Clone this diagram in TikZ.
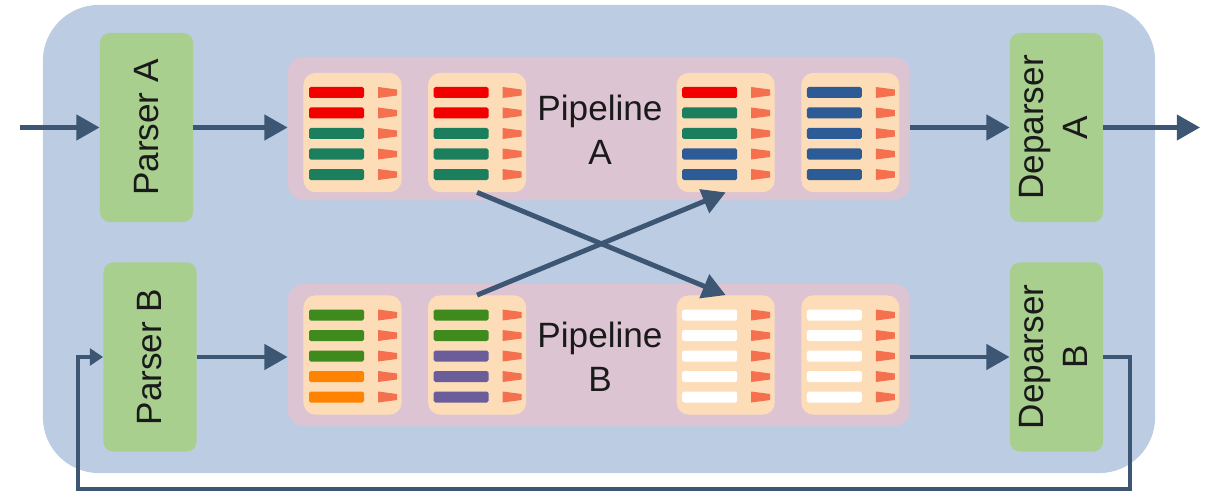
\documentclass[tikz,border=0pt]{standalone}
\usepackage{fontspec}
\setmainfont{Liberation Sans}
\usepackage{xcolor}
\usetikzlibrary{arrows.meta, positioning}

\definecolor{chipblue}{HTML}{BCCDE3}
\definecolor{unitgreen}{HTML}{A9CF8F}
\definecolor{pipepink}{HTML}{DDC4D2}
\definecolor{stagepeach}{HTML}{FCDDB8}
\definecolor{flowc}{HTML}{3C5673}
\definecolor{textc}{HTML}{1A1A1A}
\definecolor{wedgec}{HTML}{F4704F}
\definecolor{barred}{HTML}{F20000}
\definecolor{barteal}{HTML}{1B7F5E}
\definecolor{barblue}{HTML}{2D5B95}
\definecolor{bargreen}{HTML}{3F8A1D}
\definecolor{barorange}{HTML}{FF8300}
\definecolor{barpurple}{HTML}{6B5C9A}

% table entries of one stage: coloured bar plus action wedge per row
\newcommand{\stagebars}[2]{%
  \begin{scope}[shift={(#1.center)}]
    \foreach \c [count=\i from -2] in {#2} {
      \pgfmathsetmacro\yy{20.5*\i+1}
      \fill[\c, rounded corners=1.2pt] (-43.5,\yy-5.5) rectangle (11.5,\yy+5.5);
      \fill[wedge] (25.5,\yy-5.5) -- (44.5,\yy-3) -- (44.5,\yy+3) -- (25.5,\yy+5.5) -- cycle;
    }
  \end{scope}}

\begin{document}
\begin{tikzpicture}[
    x=0.025cm, y=-0.025cm,
    font=\fontsize{25}{31}\selectfont,
    chassis/.style={fill=chipblue, rounded corners=1.4cm, minimum width=27.8cm, minimum height=11.7cm},
    unit/.style={fill=unitgreen, rounded corners=0.25cm, minimum width=2.33cm, minimum height=4.73cm, inner sep=0pt, text=textc},
    pipe/.style={fill=pipepink, rounded corners=0.4cm, minimum width=15.55cm, minimum height=3.55cm},
    stage/.style={fill=stagepeach, rounded corners=0.3cm, minimum width=2.45cm, minimum height=2.98cm, inner sep=0pt},
    wedge/.style={fill=wedgec},
    flow/.style={draw=flowc, line width=3.5pt, -{Triangle[length=0.58cm, width=0.62cm]}},
    loopback/.style={draw=flowc, line width=2.8pt, -{Triangle[length=0.33cm, width=0.42cm]}},
]
    \useasboundingbox (0,0) rectangle (1207,492);

    % Switch chassis
    \node[chassis] (chip) at (599,239) {};

    % Parsers and deparsers
    \node[unit] (parsA) at (146.5,127.5) {\rotatebox{90}{Parser A}};
    \node[unit] (parsB) at (150,357) {\rotatebox{90}{Parser B}};
    \node[unit] (depA) at (1056.5,127.5) {\rotatebox{90}{\begin{tabular}{@{}c@{}}Deparser\\A\end{tabular}}};
    \node[unit] (depB) at (1056.5,357) {\rotatebox{90}{\begin{tabular}{@{}c@{}}Deparser\\B\end{tabular}}};

    % Pipelines
    \node[pipe, minimum height=3.58cm] (pipeA) at (599,128.5) {};
    \node[pipe] (pipeB) at (599,355) {};
    \node[align=center, text=textc] (labA) at (600,130) {Pipeline\\A};
    \node[align=center, text=textc] (labB) at (600,357) {Pipeline\\B};

    % Match-action stages
    \node[stage] (stA1) at (352.5,132.5) {};
    \node[stage, right=0.65cm of stA1] (stA2) {};
    \node[stage, right=3.75cm of stA2] (stA3) {};
    \node[stage, right=0.65cm of stA3] (stA4) {};
    \node[stage] (stB1) at (352.5,355) {};
    \node[stage, right=0.65cm of stB1] (stB2) {};
    \node[stage, right=3.75cm of stB2] (stB3) {};
    \node[stage, right=0.65cm of stB3] (stB4) {};

    \stagebars{stA1}{barred,barred,barteal,barteal,barteal}
    \stagebars{stA2}{barred,barred,barteal,barteal,barteal}
    \stagebars{stA3}{barred,barteal,barteal,barblue,barblue}
    \stagebars{stA4}{barblue,barblue,barblue,barblue,barblue}
    \stagebars{stB1}{bargreen,bargreen,bargreen,barorange,barorange}
    \stagebars{stB2}{bargreen,bargreen,barpurple,barpurple,barpurple}
    \stagebars{stB3}{white,white,white,white,white}
    \stagebars{stB4}{white,white,white,white,white}

    % Packet flow
    \coordinate (in) at (20,127.5);
    \coordinate (out) at (1200,127.5);
    \coordinate (loopR) at (1130,489);
    \coordinate (loopL) at (78,489);

    \draw[flow] (in) -- (parsA.west);
    \draw[flow] (parsA.east) -- (parsA.east -| pipeA.west);
    \draw[flow] (parsB.east) -- (parsB.east -| pipeB.west);
    \draw[flow] (pipeA.east |- depA.west) -- (depA.west);
    \draw[flow] (pipeB.east |- depB.west) -- (depB.west);
    \draw[flow] (depA.east) -- (out);
    \draw[flow] (stA2.south) -- (stB3.north);
    \draw[flow] (stB2.north) -- (stA3.south);
    \draw[loopback] (depB.east) -| (loopR) -- (loopL) |- (parsB.west);
\end{tikzpicture}
\end{document}
